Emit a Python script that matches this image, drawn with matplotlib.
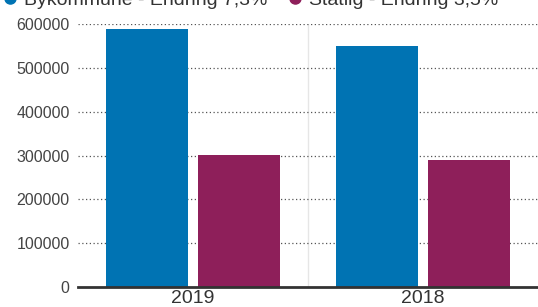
import matplotlib.pyplot as plt
import numpy as np
from matplotlib.lines import Line2D

plt.rcParams['font.family'] = ['Liberation Sans', 'DejaVu Sans']

years = ['2019', '2018']
series_names = ['Bykommune - Endring 7,3%', 'Statlig - Endring 3,5%']
bykommune = [588000, 549000]
statlig = [301000, 290000]
colors = ['#0073b3', '#8e1f5a']
yticks = [0, 100000, 200000, 300000, 400000, 500000, 600000]

fig = plt.figure(figsize=(5.38, 3.07), dpi=100)
ax = fig.add_axes([78 / 538, 20 / 307, 1 - 78 / 538, (287 - 24) / 307])

x = np.arange(len(years))
w = 0.36
gap = 0.04
ax.bar(x - (w + gap) / 2, bykommune, width=w, color=colors[0], zorder=3)
ax.bar(x + (w + gap) / 2, statlig, width=w, color=colors[1], zorder=3)

ax.set_xlim(-0.5, 1.5)
ax.set_ylim(0, 600000)
ax.set_yticks(yticks)
ax.set_yticklabels([str(v) for v in yticks], fontsize=11.5, color='#444444')
ax.set_xticks(x)
ax.set_xticklabels(years, fontsize=14, color='#333333')
ax.tick_params(axis='x', length=0, pad=2)
ax.tick_params(axis='y', length=0, pad=6)

for v in yticks[1:]:
    ax.axhline(v, color='#555555', lw=0.9, ls=(0, (1, 2)), zorder=1)
ax.axvline(0.5, color='#e6e6e6', lw=1, zorder=0)

for s in ['top', 'right', 'left']:
    ax.spines[s].set_visible(False)
ax.spines['bottom'].set_color('#333333')
ax.spines['bottom'].set_linewidth(2)
ax.spines['bottom'].set_zorder(4)

# legend sits partly above the top edge, like in the source
handles = [Line2D([], [], marker='o', ls='', color=c, markersize=8) for c in colors]
fig.legend(handles, series_names, loc='center left', bbox_to_anchor=(0.0, 1.0),
           ncol=2, frameon=False, fontsize=14, handlelength=0.8, handletextpad=0.35,
           columnspacing=1.0, borderaxespad=0, borderpad=0.1, labelcolor='#333333')

fig.savefig('out.png', dpi=100)
